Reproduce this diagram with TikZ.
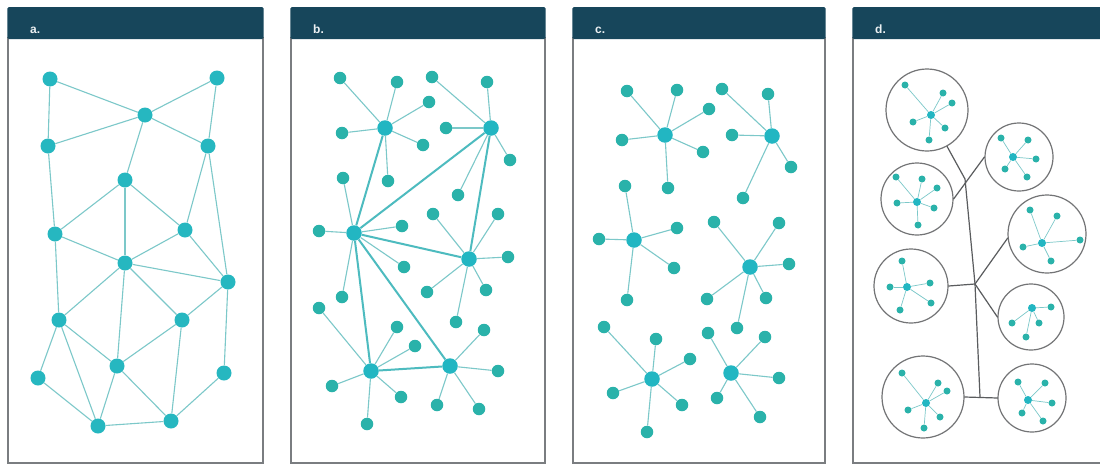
\documentclass[tikz,border=0pt]{standalone}
\usepackage{fontspec}
\setmainfont{Liberation Sans}
\definecolor{headblue}{HTML}{17465B}
\definecolor{framegray}{HTML}{7A7D80}
\definecolor{dotteal}{HTML}{26B7C0}
\definecolor{hubteal}{HTML}{22B6C2}
\definecolor{leafteal}{HTML}{2AB2AA}
\definecolor{edgeteal}{HTML}{7CC8C9}
\definecolor{linkteal}{HTML}{4DBBBF}
\definecolor{treegray}{HTML}{5A5C5E}
\begin{document}
\begin{tikzpicture}[x=1pt,y=-1pt,
  panelframe/.style={draw=framegray,line width=1.4pt,fill=white},
  header/.style={fill=headblue,rounded corners=1.5pt},
  paneltag/.style={text=white!92!headblue,font=\bfseries\fontsize{12}{14}\selectfont,anchor=base west,inner sep=0pt},
  bigdot/.style={circle,fill=dotteal,inner sep=0pt,minimum size=15pt},
  hubdot/.style={circle,fill=hubteal,inner sep=0pt,minimum size=15.5pt},
  leafdot/.style={circle,fill=leafteal,inner sep=0pt,minimum size=12.5pt},
  minihub/.style={circle,fill=hubteal,inner sep=0pt,minimum size=8pt},
  minileaf/.style={circle,fill=leafteal,inner sep=0pt,minimum size=7pt},
  edge/.style={draw=edgeteal,line width=1.1pt},
  link/.style={draw=linkteal,line width=2pt},
  miniedge/.style={draw=edgeteal,line width=0.7pt},
  ring/.style={circle,draw=treegray!85,line width=1.2pt,inner sep=0pt},
  tree/.style={draw=treegray,line width=1.2pt,line cap=round,line join=round}]

\useasboundingbox (0,0) rectangle (1100,466);
\fill[white] (0,0) rectangle (1100,466);
\begin{scope}
\clip (0,0) rectangle (1100,466);

% ---------- panel frames and headers ----------
\foreach \l/\r/\t in {8/263/a., 291/545/b., 573/825/c., 853/1110/d.}{
  \draw[panelframe] (\l,38) rectangle (\r,463);
  \fill[header] (\l-0.7,7) rectangle (\r+0.7,39);
  \node[paneltag] at (\l+22,33) {\t};
}

% ---------- panel a: mesh network ----------
\foreach \n/\x/\y in {1/50/79, 2/217/78, 3/145/115, 4/48/146, 5/208/146,
  6/125/180, 7/55/234, 8/185/230, 9/125/263, 10/228/282, 11/59/320,
  12/182/320, 13/117/366, 14/38/378, 15/224/373, 16/98/426, 17/171/421}
  \node[bigdot] (a\n) at (\x,\y) {};
\foreach \p/\q in {1/3, 2/3, 1/4, 4/3, 3/5, 2/5, 3/6, 4/7, 6/7, 6/9, 6/8,
  5/8, 5/10, 7/9, 9/8, 9/10, 8/10, 7/11, 9/11, 9/13, 9/12, 10/12, 10/15,
  11/13, 11/14, 11/16, 12/13, 12/17, 13/16, 13/17, 14/16, 16/17, 15/17}
  \draw[edge] (a\p) -- (a\q);

% ---------- panel b: connected hubs ----------
\foreach \n/\x/\y in {1/385/128, 2/491/128, 3/354/233, 4/469/259, 5/371/371, 6/450/366}
  \node[hubdot] (bh\n) at (\x,\y) {};
\foreach \p/\q in {3/1, 3/2, 3/4, 3/5, 3/6, 2/4, 5/6}
  \draw[link] (bh\p) -- (bh\q);
\foreach \n/\x/\y/\h in {1/340/78/1, 2/397/82/1, 3/429/102/1, 4/342/133/1,
  5/423/145/1, 6/388/181/1, 7/432/77/2, 8/487/82/2, 9/446/128/2,
  10/510/160/2, 11/458/195/2, 12/343/178/3, 13/319/231/3, 14/402/226/3,
  15/404/267/3, 16/342/297/3, 17/433/214/4, 18/498/214/4, 19/508/257/4,
  20/427/292/4, 21/486/290/4, 22/456/322/4, 23/319/308/5, 24/397/327/5,
  25/415/346/5, 26/332/386/5, 27/401/397/5, 28/367/424/5, 29/484/330/6,
  30/498/371/6, 31/437/405/6, 32/479/409/6}{
  \node[leafdot] (bl\n) at (\x,\y) {};
  \draw[edge] (bh\h) -- (bl\n);
}

% ---------- panel c: separate stars ----------
\foreach \n/\x/\y in {1/665/135, 2/772/136, 3/634/240, 4/750/267, 5/652/379, 6/731/373}
  \node[hubdot] (ch\n) at (\x,\y) {};
\foreach \n/\x/\y/\h in {1/627/91/1, 2/677/90/1, 3/709/109/1, 4/622/140/1,
  5/703/152/1, 6/668/188/1, 7/722/89/2, 8/768/94/2, 9/732/135/2,
  10/791/167/2, 11/743/198/2, 12/625/186/3, 13/599/239/3, 14/677/228/3,
  15/674/268/3, 16/627/300/3, 17/714/222/4, 18/779/223/4, 19/789/264/4,
  20/707/299/4, 21/766/298/4, 22/737/328/4, 23/604/327/5, 24/656/339/5,
  25/690/359/5, 26/613/393/5, 27/682/405/5, 28/647/432/5, 29/708/333/6,
  30/765/337/6, 31/779/378/6, 32/717/398/6, 33/760/417/6}{
  \node[leafdot] (cl\n) at (\x,\y) {};
  \draw[edge] (ch\h) -- (cl\n);
}

% ---------- panel d: clusters joined by a tree ----------
\foreach \n/\x/\y/\r in {1/927/110/41, 2/1019/157/34, 3/917/199/36,
  4/1047/234/39, 5/911/286/37, 6/1031/317/33, 7/923/397/41, 8/1032/398/34}
  \node[ring,minimum size={2pt*\r}] (dc\n) at (\x,\y) {};
\foreach \n/\x/\y in {1/931/115, 2/1013/157, 3/917/202, 4/1042/243,
  5/907/287, 6/1032/308, 7/926/403, 8/1028/400}
  \node[minihub] (dh\n) at (\x,\y) {};
\foreach \n/\x/\y/\h in {1/905/85/1, 2/943/93/1, 3/952/103/1, 4/913/122/1,
  5/945/128/1, 6/929/140/1, 7/1001/138/2, 8/1028/140/2, 9/1036/159/2,
  10/1005/169/2, 11/1027/177/2, 12/896/177/3, 13/922/179/3, 14/937/188/3,
  15/897/203/3, 16/934/208/3, 17/918/225/3, 18/1030/210/4, 19/1057/216/4,
  20/1080/240/4, 21/1023/247/4, 22/1051/261/4, 23/902/261/5, 24/890/287/5,
  25/930/283/5, 26/931/303/5, 27/900/310/5, 28/1051/307/6, 29/1012/323/6,
  30/1039/323/6, 31/1026/337/6, 32/902/373/7, 33/938/383/7, 34/947/391/7,
  35/908/410/7, 36/940/417/7, 37/924/428/7, 38/1018/382/8, 39/1045/383/8,
  40/1052/403/8, 41/1022/413/8, 42/1043/421/8}{
  \node[minileaf] (dl\n) at (\x,\y) {};
  \draw[miniedge] (dh\h) -- (dl\n);
}

% tree joining the clusters
\coordinate (bend) at (965,179);
\coordinate (fork) at (975,284);
\coordinate (foot) at (980,397);
\draw[tree] (dc1) -- (bend) -- (fork) -- (foot);
\draw[tree] (dc3.east) -- (dc2.west);
\draw[tree] (dc5.east) -- (fork);
\draw[tree] (fork) -- (dc4.186);
\draw[tree] (fork) -- (dc6.west);
\draw[tree] (dc7.east) -- (dc8.west);
\end{scope}
\end{tikzpicture}
\end{document}
